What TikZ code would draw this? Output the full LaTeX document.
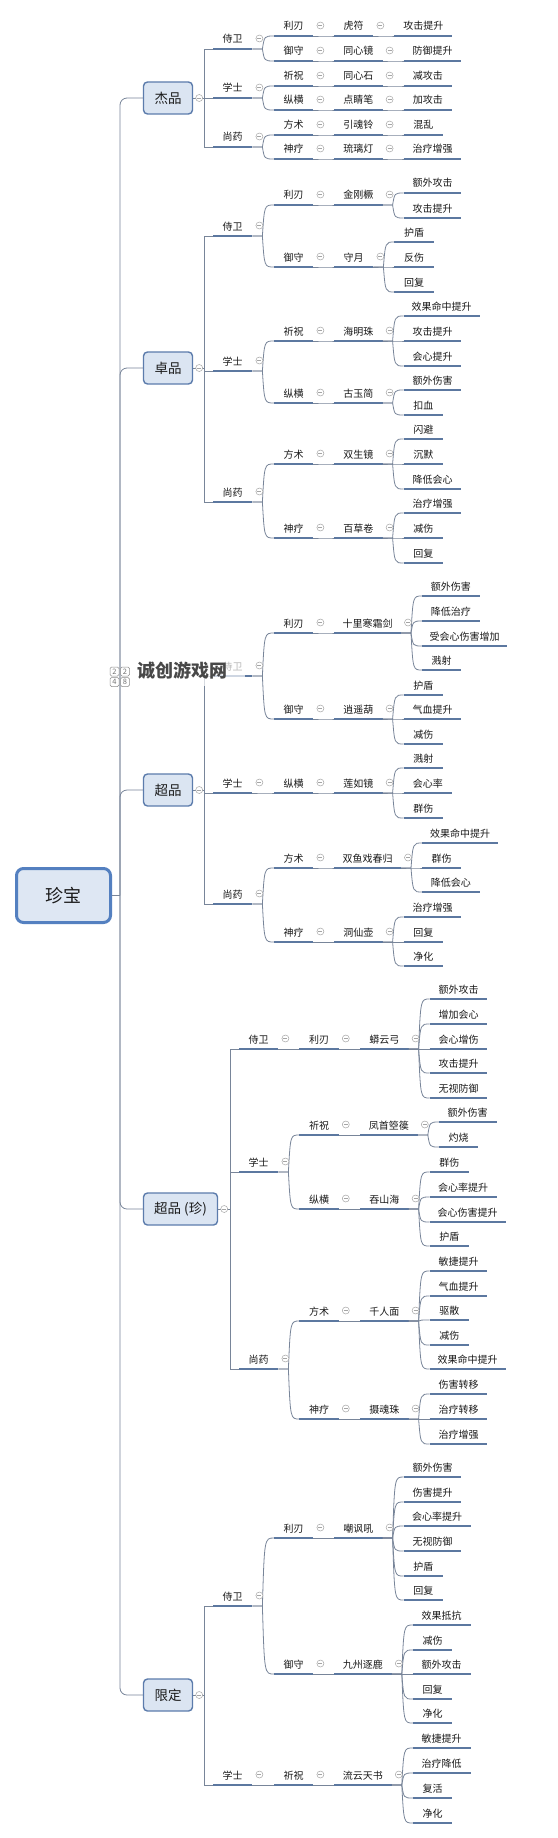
\documentclass[tikz,border=0pt]{standalone}
\usepackage{fontspec}
\setmainfont{Noto Sans CJK SC}
\usetikzlibrary{calc}
\definecolor{ul}{RGB}{92,120,160}
\definecolor{cn}{RGB}{120,133,153}
\definecolor{bx}{RGB}{92,124,172}
\definecolor{bxf}{RGB}{219,229,242}
\definecolor{rbx}{RGB}{84,128,192}
\definecolor{rbxf}{RGB}{222,231,243}
\definecolor{txt}{RGB}{25,25,25}
\definecolor{tgc}{RGB}{165,165,165}
\definecolor{wm}{RGB}{72,72,72}
\tikzset{
  lbl/.style={inner sep=0pt, font=\fontsize{10}{11}\selectfont, text=txt},
  uline/.style={draw=ul, line width=2.6pt},
  conn/.style={draw=cn, line width=0.8pt},
  tog/.style={circle, draw=tgc, fill=white, line width=0.5pt, minimum size=7pt, inner sep=0pt,
    path picture={\draw[tgc,line width=0.6pt] ([xshift=-2pt]path picture bounding box.center) -- ([xshift=2pt]path picture bounding box.center);}},
  catbox/.style={draw=bx, fill=bxf, line width=1.4pt, rounded corners=4pt, minimum width=49pt, minimum height=32pt,
    inner sep=0pt, font=\fontsize{13.5}{15}\selectfont, text=txt},
  rootbox/.style={draw=rbx, fill=rbxf, line width=3pt, rounded corners=7pt, minimum width=94pt, minimum height=54pt,
    inner sep=0pt, font=\fontsize{18}{20}\selectfont, text=txt},
  logobox/.style={draw=black!45, fill=white, line width=0.5pt, rounded corners=1.5pt, minimum size=9pt, inner sep=0pt,
    font=\fontsize{7.5}{8}\selectfont, text=black!55}
}
% item: name, x1, number of characters, y, text
\newcommand\mmi[5]{%
  \coordinate (#1-l) at (#2,#4);
  \coordinate (#1-r) at (#2+9.2*#3+21,#4);
  \coordinate (#1-j) at (#2+9.2*#3+31,#4);
  \draw[uline] (#1-l) -- (#1-r);
  \node[lbl,anchor=base] (#1) at (#2+4.6*#3+10.5,#4-6) {#5};
}
\newcommand\mmfan[2]{%
  \foreach \c in {#2}{\draw[conn] (#1-r) -- (#1-j) .. controls ($(#1-j |- \c-l)+(2,0)$) .. (\c-l);}
  \node[tog] (#1-t) at ($(#1-r)+(7,-10.5)$) {};
}
\newcommand\mmspine[4]{%
  \coordinate (#1-s) at (#2,#3);
  \draw[conn] (#1.east) -- (#1-s);
  \foreach \c in {#4}{\draw[conn] (#1-s) |- (\c-l);}
  \node[tog] (#1-t) at ($(#1.east)+(6,0)$) {};
}
\begin{document}
\begin{tikzpicture}[x=1pt,y=-1pt]
\useasboundingbox (0,0) rectangle (557,1838);
\fill[white] (0,0) rectangle (557,1838);

% ---------- boxes ----------
\node[rootbox] (R) at (63.5,895.5) {珍宝};
\node[catbox] (A) at (168,98) {杰品};
\node[catbox] (B) at (168,368) {卓品};
\node[catbox] (C) at (168,790) {超品};
\node[catbox,minimum width=74pt] (D) at (180.5,1209) {超品 (珍)};
\node[catbox] (E) at (168,1695) {限定};

% ---------- 杰品 ----------
\mmi{A1}{213}{2}{49}{侍卫}
\mmi{A11}{274}{2}{36}{利刃}
\mmi{A111}{334}{2}{36}{虎符}
\mmi{A1111}{394.4}{4}{36}{攻击提升}
\mmi{A12}{274}{2}{61}{御守}
\mmi{A121}{334}{3}{61}{同心镜}
\mmi{A1211}{403.6}{4}{61}{防御提升}
\mmi{A2}{213}{2}{98}{学士}
\mmi{A21}{274}{2}{86}{祈祝}
\mmi{A211}{334}{3}{86}{同心石}
\mmi{A2111}{403.6}{3}{86}{减攻击}
\mmi{A22}{274}{2}{110}{纵横}
\mmi{A221}{334}{3}{110}{点睛笔}
\mmi{A2211}{403.6}{3}{110}{加攻击}
\mmi{A3}{213}{2}{147}{尚药}
\mmi{A31}{274}{2}{135}{方术}
\mmi{A311}{334}{3}{135}{引魂铃}
\mmi{A3111}{403.6}{2}{135}{混乱}
\mmi{A32}{274}{2}{159}{神疗}
\mmi{A321}{334}{3}{159}{琉璃灯}
\mmi{A3211}{403.6}{4}{159}{治疗增强}

% ---------- 卓品 ----------
\mmi{B1}{213}{2}{236}{侍卫}
\mmi{B11}{274}{2}{205}{利刃}
\mmi{B111}{334}{3}{205}{金刚橛}
\mmi{B1111}{403.6}{4}{193}{额外攻击}
\mmi{B1112}{403.6}{4}{218}{攻击提升}
\mmi{B12}{274}{2}{267}{御守}
\mmi{B121}{334}{2}{267}{守月}
\mmi{B1211}{394.4}{2}{242}{护盾}
\mmi{B1212}{394.4}{2}{267}{反伤}
\mmi{B1213}{394.4}{2}{292}{回复}
\mmi{B2}{213}{2}{371}{学士}
\mmi{B21}{274}{2}{341}{祈祝}
\mmi{B211}{334}{3}{341}{海明珠}
\mmi{B2111}{403.6}{6}{316}{效果命中提升}
\mmi{B2112}{403.6}{4}{341}{攻击提升}
\mmi{B2113}{403.6}{4}{366}{会心提升}
\mmi{B22}{274}{2}{403}{纵横}
\mmi{B221}{334}{3}{403}{古玉简}
\mmi{B2211}{403.6}{4}{390}{额外伤害}
\mmi{B2212}{403.6}{2}{415}{扣血}
\mmi{B3}{213}{2}{502}{尚药}
\mmi{B31}{274}{2}{464}{方术}
\mmi{B311}{334}{3}{464}{双生镜}
\mmi{B3111}{403.6}{2}{439}{闪避}
\mmi{B3112}{403.6}{2}{464}{沉默}
\mmi{B3113}{403.6}{4}{489}{降低会心}
\mmi{B32}{274}{2}{538}{神疗}
\mmi{B321}{334}{3}{538}{百草卷}
\mmi{B3211}{403.6}{4}{513}{治疗增强}
\mmi{B3212}{403.6}{2}{538}{减伤}
\mmi{B3213}{403.6}{2}{563}{回复}

% ---------- 超品 ----------
\mmi{C1}{213}{2}{676}{侍卫}
\mmi{C11}{274}{2}{633}{利刃}
\mmi{C111}{334}{5}{633}{十里寒霜剑}
\mmi{C1111}{422}{4}{596}{额外伤害}
\mmi{C1112}{422}{4}{621}{降低治疗}
\mmi{C1113}{422}{7}{646}{受会心伤害增加}
\mmi{C1114}{422}{2}{670}{溅射}
\mmi{C12}{274}{2}{719}{御守}
\mmi{C121}{334}{3}{719}{逍遥葫}
\mmi{C1211}{403.6}{2}{695}{护盾}
\mmi{C1212}{403.6}{4}{719}{气血提升}
\mmi{C1213}{403.6}{2}{744}{减伤}
\mmi{C2}{213}{2}{793}{学士}
\mmi{C21}{274}{2}{793}{纵横}
\mmi{C211}{334}{3}{793}{莲如镜}
\mmi{C2111}{403.6}{2}{768}{溅射}
\mmi{C2112}{403.6}{3}{793}{会心率}
\mmi{C2113}{403.6}{2}{818}{群伤}
\mmi{C3}{213}{2}{904}{尚药}
\mmi{C31}{274}{2}{868}{方术}
\mmi{C311}{334}{5}{868}{双鱼戏春归}
\mmi{C3111}{422}{6}{843}{效果命中提升}
\mmi{C3112}{422}{2}{868}{群伤}
\mmi{C3113}{422}{4}{892}{降低会心}
\mmi{C32}{274}{2}{942}{神疗}
\mmi{C321}{334}{3}{942}{洞仙壶}
\mmi{C3211}{403.6}{4}{917}{治疗增强}
\mmi{C3212}{403.6}{2}{942}{回复}
\mmi{C3213}{403.6}{2}{966}{净化}

% ---------- 超品 (珍) ----------
\mmi{D1}{239}{2}{1049}{侍卫}
\mmi{D11}{299.4}{2}{1049}{利刃}
\mmi{D111}{360}{3}{1049}{蟒云弓}
\mmi{D1111}{429.6}{4}{999}{额外攻击}
\mmi{D1112}{429.6}{4}{1024}{增加会心}
\mmi{D1113}{429.6}{4}{1049}{会心增伤}
\mmi{D1114}{429.6}{4}{1073}{攻击提升}
\mmi{D1115}{429.6}{4}{1098}{无视防御}
\mmi{D2}{239}{2}{1172}{学士}
\mmi{D21}{299.4}{2}{1135}{祈祝}
\mmi{D211}{360}{4}{1135}{凤首箜篌}
\mmi{D2111}{438.8}{4}{1122}{额外伤害}
\mmi{D2112}{438.8}{2}{1147}{灼烧}
\mmi{D22}{299.4}{2}{1209}{纵横}
\mmi{D221}{360}{3}{1209}{吞山海}
\mmi{D2211}{429.6}{2}{1172}{群伤}
\mmi{D2212}{429.6}{5}{1197}{会心率提升}
\mmi{D2213}{429.6}{6}{1222}{会心伤害提升}
\mmi{D2214}{429.6}{2}{1246}{护盾}
\mmi{D3}{239}{2}{1369}{尚药}
\mmi{D31}{299.4}{2}{1321}{方术}
\mmi{D311}{360}{3}{1321}{千人面}
\mmi{D3111}{429.6}{4}{1271}{敏捷提升}
\mmi{D3112}{429.6}{4}{1296}{气血提升}
\mmi{D3113}{429.6}{2}{1320}{驱散}
\mmi{D3114}{429.6}{2}{1345}{减伤}
\mmi{D3115}{429.6}{6}{1369}{效果命中提升}
\mmi{D32}{299.4}{2}{1419}{神疗}
\mmi{D321}{360}{3}{1419}{摄魂珠}
\mmi{D3211}{429.6}{4}{1394}{伤害转移}
\mmi{D3212}{429.6}{4}{1419}{治疗转移}
\mmi{D3213}{429.6}{4}{1444}{治疗增强}

% ---------- 限定 ----------
\mmi{E1}{213}{2}{1606}{侍卫}
\mmi{E11}{274}{2}{1538}{利刃}
\mmi{E111}{334}{3}{1538}{嘲讽吼}
\mmi{E1111}{403.6}{4}{1477}{额外伤害}
\mmi{E1112}{403.6}{4}{1502}{伤害提升}
\mmi{E1113}{403.6}{5}{1526}{会心率提升}
\mmi{E1114}{403.6}{4}{1551}{无视防御}
\mmi{E1115}{403.6}{2}{1576}{护盾}
\mmi{E1116}{403.6}{2}{1600}{回复}
\mmi{E12}{274}{2}{1674}{御守}
\mmi{E121}{334}{4}{1674}{九州逐鹿}
\mmi{E1211}{412.8}{4}{1625}{效果抵抗}
\mmi{E1212}{412.8}{2}{1650}{减伤}
\mmi{E1213}{412.8}{4}{1674}{额外攻击}
\mmi{E1214}{412.8}{2}{1699}{回复}
\mmi{E1215}{412.8}{2}{1723}{净化}
\mmi{E2}{213}{2}{1785}{学士}
\mmi{E21}{274}{2}{1785}{祈祝}
\mmi{E211}{334}{4}{1785}{流云天书}
\mmi{E2111}{412.8}{4}{1748}{敏捷提升}
\mmi{E2112}{412.8}{4}{1773}{治疗降低}
\mmi{E2113}{412.8}{2}{1798}{复活}
\mmi{E2114}{412.8}{2}{1823}{净化}

% ---------- trunk ----------
\coordinate (T) at (120,895.5);
\draw[conn] (R.east) -- (T);
\foreach \b in {A,B,C,D,E}{\draw[conn,rounded corners=7pt] (T) |- (\b.west);}

% ---------- spines ----------
\mmspine{A}{204}{98}{A1,A2,A3}
\mmspine{B}{204}{368}{B1,B2,B3}
\mmspine{C}{204}{790}{C1,C2,C3}
\mmspine{D}{230}{1209}{D1,D2,D3}
\mmspine{E}{204}{1695}{E1,E2}

% ---------- fans ----------
\mmfan{A1}{A11,A12}\mmfan{A11}{A111}\mmfan{A111}{A1111}\mmfan{A12}{A121}\mmfan{A121}{A1211}
\mmfan{A2}{A21,A22}\mmfan{A21}{A211}\mmfan{A211}{A2111}\mmfan{A22}{A221}\mmfan{A221}{A2211}
\mmfan{A3}{A31,A32}\mmfan{A31}{A311}\mmfan{A311}{A3111}\mmfan{A32}{A321}\mmfan{A321}{A3211}

\mmfan{B1}{B11,B12}\mmfan{B11}{B111}\mmfan{B111}{B1111,B1112}\mmfan{B12}{B121}\mmfan{B121}{B1211,B1212,B1213}
\mmfan{B2}{B21,B22}\mmfan{B21}{B211}\mmfan{B211}{B2111,B2112,B2113}\mmfan{B22}{B221}\mmfan{B221}{B2211,B2212}
\mmfan{B3}{B31,B32}\mmfan{B31}{B311}\mmfan{B311}{B3111,B3112,B3113}\mmfan{B32}{B321}\mmfan{B321}{B3211,B3212,B3213}

\mmfan{C1}{C11,C12}\mmfan{C11}{C111}\mmfan{C111}{C1111,C1112,C1113,C1114}\mmfan{C12}{C121}\mmfan{C121}{C1211,C1212,C1213}
\mmfan{C2}{C21}\mmfan{C21}{C211}\mmfan{C211}{C2111,C2112,C2113}
\mmfan{C3}{C31,C32}\mmfan{C31}{C311}\mmfan{C311}{C3111,C3112,C3113}\mmfan{C32}{C321}\mmfan{C321}{C3211,C3212,C3213}

\mmfan{D1}{D11}\mmfan{D11}{D111}\mmfan{D111}{D1111,D1112,D1113,D1114,D1115}
\mmfan{D2}{D21,D22}\mmfan{D21}{D211}\mmfan{D211}{D2111,D2112}\mmfan{D22}{D221}\mmfan{D221}{D2211,D2212,D2213,D2214}
\mmfan{D3}{D31,D32}\mmfan{D31}{D311}\mmfan{D311}{D3111,D3112,D3113,D3114,D3115}\mmfan{D32}{D321}\mmfan{D321}{D3211,D3212,D3213}

\mmfan{E1}{E11,E12}\mmfan{E11}{E111}\mmfan{E111}{E1111,E1112,E1113,E1114,E1115,E1116}\mmfan{E12}{E121}\mmfan{E121}{E1211,E1212,E1213,E1214,E1215}
\mmfan{E2}{E21}\mmfan{E21}{E211}\mmfan{E211}{E2111,E2112,E2113,E2114}

% ---------- watermark ----------
\fill[white,opacity=0.7] (131,659) rectangle (245,686);
\node[font=\bfseries\fontsize{18}{20}\selectfont, text=wm, inner sep=0pt] (wm) at (182,671) {诚创游戏网};
\node[logobox] (lg1) at (114.5,671.5) {2};
\node[logobox] (lg2) at (125,671.5) {2};
\node[logobox] (lg3) at (114.5,682) {4};
\node[logobox] (lg4) at (125,682) {8};
\end{tikzpicture}
\end{document}
